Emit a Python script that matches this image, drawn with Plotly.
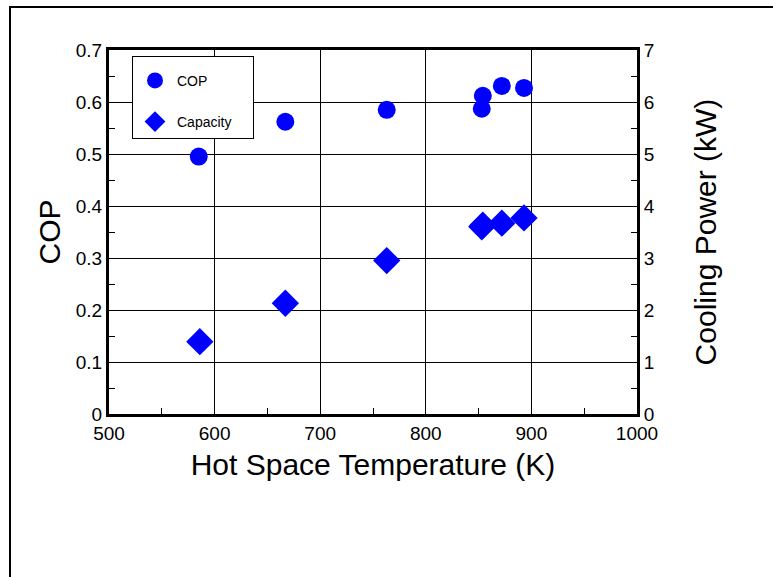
import plotly.graph_objects as go

# Data
cop_temp = [585, 667, 763, 853, 854, 872, 893]
cop_vals = [0.495, 0.562, 0.585, 0.587, 0.612, 0.631, 0.627]

cap_temp = [586, 667, 763, 853, 854, 872, 893]
cap_vals = [1.39, 2.13, 2.95, 3.60, 3.63, 3.67, 3.77]

x_ticks = [500, 600, 700, 800, 900, 1000]
y_ticks = [0, 0.1, 0.2, 0.3, 0.4, 0.5, 0.6, 0.7]
y2_ticks = [0, 1, 2, 3, 4, 5, 6, 7]

FONT = "Liberation Sans, Arial, sans-serif"
BLUE = "#0000FF"

W, H = 773, 577
L, R, T, B = 109, 136, 50, 163
PW = W - L - R
PH = H - T - B

fig = go.Figure()
fig.add_trace(go.Scatter(
    x=cop_temp, y=cop_vals, mode="markers", name="COP",
    marker=dict(symbol="circle", size=18, color=BLUE),
    legendgroup="a",
))
fig.add_trace(go.Scatter(
    x=cap_temp, y=cap_vals, mode="markers", name="Capacity&nbsp;&nbsp;&nbsp;&nbsp;", yaxis="y2",
    marker=dict(symbol="diamond", size=21, color=BLUE),
    legendgroup="b",
))

axis_common = dict(
    showline=True, linecolor="black", linewidth=3,
    zeroline=False,
    tickfont=dict(family=FONT, size=19, color="black"),
    ticks="inside", ticklen=6, tickcolor="black", tickwidth=1,
)

fig.update_layout(
    width=W, height=H,
    margin=dict(l=L, r=R, t=T, b=B, autoexpand=False),
    paper_bgcolor="white", plot_bgcolor="white",
    font=dict(family=FONT, color="black"),
    xaxis=dict(
        range=[500, 1000], tickvals=x_ticks, ticktext=[str(v) for v in x_ticks],
        showgrid=True, gridcolor="black", gridwidth=1, mirror=True,
        minor=dict(ticks="inside", dtick=50, tick0=500, ticklen=6, tickcolor="black", showgrid=False),
        title=dict(text="Hot Space Temperature (K)", font=dict(family=FONT, size=30, color="black"), standoff=12),
        automargin=False,
        **axis_common,
    ),
    yaxis=dict(
        range=[0, 0.7], tickvals=y_ticks, ticktext=["0", "0.1", "0.2", "0.3", "0.4", "0.5", "0.6", "0.7"],
        showgrid=True, gridcolor="black", gridwidth=1,
        minor=dict(ticks="inside", dtick=0.05, tick0=0, ticklen=6, tickcolor="black", showgrid=False),
        title=dict(text="COP", font=dict(family=FONT, size=30, color="black"), standoff=7),
        automargin=False,
        **axis_common,
    ),
    yaxis2=dict(
        range=[0, 7], tickvals=y2_ticks, ticktext=[str(v) for v in y2_ticks],
        overlaying="y", side="right", showgrid=False,
        minor=dict(ticks="inside", dtick=0.5, tick0=0, ticklen=6, tickcolor="black", showgrid=False),
        title=dict(text="Cooling Power (kW)", font=dict(family=FONT, size=30, color="black"), standoff=42),
        automargin=False,
        **axis_common,
    ),
    legend=dict(
        x=(132 - L) / PW, y=1 - (56 - T) / PH, xanchor="left", yanchor="top",
        bgcolor="white", bordercolor="black", borderwidth=1,
        font=dict(family=FONT, size=14, color="black"),
        traceorder="grouped", tracegroupgap=20, itemwidth=34,
        title=dict(text=" ", font=dict(size=6)),
    ),
    shapes=[
        dict(type="rect", xref="paper", yref="paper",
             x0=(10 - L) / PW, x1=(W + 20 - L) / PW,
             y0=-(H + 20 - T - PH) / PH, y1=1 + (T - 7) / PH,
             line=dict(color="black", width=2), fillcolor="rgba(0,0,0,0)", layer="below"),
    ],
    showlegend=True,
)

fig.write_html("out.html", config={"displayModeBar": False},
               post_script="document.body.style.margin='0';")
